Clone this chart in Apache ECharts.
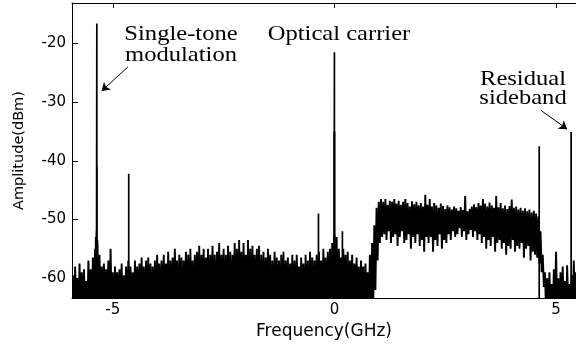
<!DOCTYPE html>
<html>
<head>
<meta charset="utf-8">
<script src="https://cdn.jsdelivr.net/npm/echarts@6/dist/echarts.min.js"></script>
<style>
  html, body { margin: 0; padding: 0; background: #fff; }
  #main { width: 576px; height: 345px; }
</style>
</head>
<body>
<div id="main"></div>
<script>
// trace sampled every 0.05 GHz from -5.9 GHz: local maxima, then the minimum just after it
var freqStart = -5.9;
var freqStep = 0.05;

var peaks = [
  -59.5, -58, -60, -57.5, -59, -58.5, -60.5, -57, -58.5, -56.5, -55, -54, -56, -58, -57.5, -58.5, -57, -55, -59, -58,
  -59, -58.5, -57.5, -59.5, -58, -57, -58, -59, -57, -58, -57.5, -56.5, -58, -57, -56.5, -57.5, -58, -57, -56, -57.5,
  -57, -56, -57.5, -55.5, -57, -56.5, -55, -57, -56, -56.5, -57, -55.5, -56, -55, -57, -56, -55.5, -54.5, -56, -55,
  -56.5, -55, -56, -54.5, -56, -55.5, -54, -56, -55, -56, -54.5, -55.5, -56, -54, -55, -53.5, -55.5, -54, -56, -53.5,
  -55, -54.5, -56, -55, -54.5, -56, -55.5, -56.5, -55, -56, -57, -55.5, -56.5, -57, -56, -55.5, -57, -56.5, -57.5, -56,
  -57, -56, -58, -56.5, -57.5, -56, -57, -55.5, -56.5, -57, -56, -55.5, -57, -55, -56.5, -55.5, -55, -54, -52.5, -53,
  -55, -56.5, -55, -56, -55.5, -57, -56, -57.5, -56.5, -58, -57, -58, -57.5, -59, -56, -54, -51, -48, -47, -46.5,
  -47, -46.5, -47.5, -46.8, -47, -46.5, -47.3, -46.8, -47.5, -47, -46.5, -47.2, -47.8, -46.9, -47.4, -47, -47.6, -47.2, -47.8, -45.8,
  -47.5, -46.5, -47.8, -47.2, -47.6, -48, -47.3, -47.7, -48.2, -47.6, -47.9, -48.3, -47.8, -48.1, -48.5, -47.9, -48.4, -46, -48.6, -48.2,
  -47.8, -47.4, -47.9, -47.2, -47.6, -46.5, -47.3, -47.8, -47.1, -47.6, -48, -46, -47.9, -47.2, -48.1, -47.6, -48.2, -47.7, -46.6, -48,
  -47.8, -48.3, -48, -48.5, -48.1, -48.6, -48.3, -48.8, -48.5, -49, -49.5, -52, -56, -59, -60, -59, -61, -58.5, -55.5, -60,
  -59, -58, -60.5, -57.8, -61, -59.5, -57, -59
];

var dips = [
  -66, -64.5, -68, -65, -67, -64.5, -66.5, -65, -68, -64, -65, -66, -64.5, -65, -67, -64.5, -66, -65, -68, -64.5,
  -66, -65, -68, -64.5, -67, -65.5, -66, -68, -64.5, -66, -67, -65, -68, -64.5, -66, -67, -65, -68, -64.5, -66,
  -67, -64.5, -66, -68, -65, -66.5, -64.5, -67, -65.5, -68, -64.5, -66, -67, -65, -68, -64.5, -66, -67.5, -65, -66,
  -65, -67, -64.5, -66, -68, -65, -66.5, -64.5, -67, -66, -65, -68, -64.5, -66, -67, -65, -66.5, -64.5, -68, -65,
  -66, -64.5, -67, -65.5, -68, -64.5, -66, -67, -65, -66.5, -68, -64.5, -66, -67, -65, -66.5, -64.5, -68, -65.5, -66,
  -67, -65, -66.5, -64.5, -68, -65.5, -66, -64.5, -67, -65, -66, -65, -67, -64.5, -66, -65, -66, -64.5, -65, -66,
  -65, -67, -64.5, -64.5, -66, -65, -67, -64.5, -66, -68, -65, -67, -64.5, -66, -66, -65, -62, -57, -54, -53,
  -52.5, -53.5, -52, -54, -53, -52.5, -54.5, -53, -52, -54, -53.5, -52.5, -55, -53, -54, -52.5, -54.5, -53.5, -55.5, -53,
  -54, -53, -55.5, -53.5, -54.5, -52.5, -55, -53.5, -54, -52.5, -53.5, -52, -53, -52.5, -51.5, -53, -52, -53.5, -52.5, -51.8,
  -53, -52, -53.5, -52.5, -54, -53, -55, -53.5, -54.5, -53, -55.5, -54, -53.5, -55, -54, -56, -54.5, -55, -53.5, -55.5,
  -54.5, -55, -54, -56.5, -55, -54.5, -57, -55.5, -56, -56.5, -57.5, -59, -61.5, -66, -67, -65, -68, -66, -65, -67,
  -66, -65, -68, -64.5, -67, -66, -65, -68
];

// narrow lines: modulation tone, carrier, residual sideband and a few others
var spikeFreq = [-5.385, -5.37, -5.36, -5.355, -5.345, -4.64, -0.36, -0.01, 0.0, 0.007, 0.18, 4.62, 5.34];
var spikeTop  = [-53, -52, -16.6, -41, -53.5, -42.2, -49, -35, -21.5, -35, -52, -37.5, -35.1];

var xTicks = [-5, 0, 5];
var yTicks = [-60, -50, -40, -30, -20];

var trace = [];
for (var i = 0; i < peaks.length; i++) {
  var f = freqStart + i * freqStep;
  trace.push([f, peaks[i]]);
  trace.push([f + freqStep / 2, dips[i]]);
}

var spikes = [];
for (var k = 0; k < spikeFreq.length; k++) {
  spikes.push([spikeFreq[k], -75]);
  spikes.push([spikeFreq[k], spikeTop[k]]);
  spikes.push([spikeFreq[k], -75]);
}

var serif = '"Liberation Serif", "Times New Roman", serif';
var sans = '"DejaVu Sans", sans-serif';

var myChart = echarts.init(document.getElementById('main'));

var option = {
  animation: false,
  backgroundColor: '#fff',
  grid: { left: 72, right: 0, top: 3, bottom: 45, containLabel: false },
  xAxis: [
    {
      type: 'value', min: -5.92, max: 5.45,
      name: 'Frequency(GHz)', nameLocation: 'middle', nameGap: 15,
      nameTextStyle: { fontFamily: sans, fontSize: 17, color: '#000' },
      axisLine: { show: true, lineStyle: { color: '#000', width: 1 } },
      axisTick: { show: true, inside: true, length: 5, customValues: xTicks, lineStyle: { color: '#000' } },
      axisLabel: { customValues: xTicks, margin: 5, fontFamily: sans, fontSize: 15, color: '#000' },
      splitLine: { show: false }
    },
    {
      type: 'value', min: -5.92, max: 5.45, position: 'top',
      axisLine: { show: true, onZero: false, lineStyle: { color: '#000', width: 1 } },
      axisTick: { show: true, inside: true, length: 5, customValues: xTicks, lineStyle: { color: '#000' } },
      axisLabel: { show: false },
      splitLine: { show: false }
    }
  ],
  yAxis: {
    type: 'value', min: -63.4, max: -13.1,
    name: 'Amplitude(dBm)', nameLocation: 'middle', nameGap: 45,
    nameTextStyle: { fontFamily: sans, fontSize: 14.5, color: '#000' },
    axisLine: { show: true, onZero: false, lineStyle: { color: '#000', width: 1 } },
    axisTick: { show: true, inside: true, length: 6, customValues: yTicks, lineStyle: { color: '#000' } },
    axisLabel: { customValues: yTicks, margin: 6, fontFamily: sans, fontSize: 15, color: '#000' },
    splitLine: { show: false }
  },
  series: [
    {
      name: 'trace', type: 'line', data: trace, showSymbol: false, clip: true,
      lineStyle: { color: '#000', width: 1.9 }
    },
    {
      name: 'lines', type: 'line', data: spikes, showSymbol: false, clip: true,
      lineStyle: { color: '#000', width: 1.7 },
      markLine: {
        silent: true, symbol: ['none', 'arrow'], symbolSize: 8,
        label: { show: false },
        lineStyle: { color: '#000', width: 1, type: 'solid' },
        data: [
          [{ coord: [-4.66, -24] }, { coord: [-5.25, -28.1] }],
          [{ coord: [4.66, -31.4] }, { coord: [5.25, -34.6] }]
        ]
      }
    }
  ],
  graphic: [
    {
      type: 'text', x: 181, y: 24, scaleX: 1.17,
      style: { text: 'Single-tone\nmodulation', font: '21px ' + serif, lineHeight: 21, fill: '#000', textAlign: 'center', textVerticalAlign: 'top' }
    },
    {
      type: 'text', x: 339, y: 24, scaleX: 1.17,
      style: { text: 'Optical carrier', font: '21px ' + serif, lineHeight: 21, fill: '#000', textAlign: 'center', textVerticalAlign: 'top' }
    },
    {
      type: 'text', x: 523, y: 70, scaleX: 1.17,
      style: { text: 'Residual\nsideband', font: '21px ' + serif, lineHeight: 19, fill: '#000', textAlign: 'center', textVerticalAlign: 'top' }
    }
  ]
};

myChart.setOption(option);
</script>
</body>
</html>
